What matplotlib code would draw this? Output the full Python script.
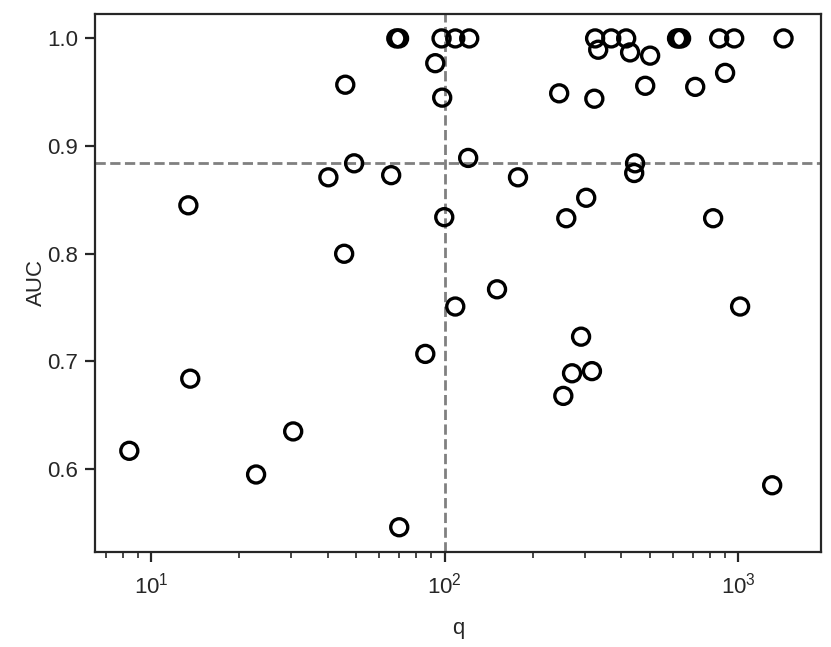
import matplotlib
matplotlib.use("Agg")
import matplotlib.pyplot as plt
import numpy as np

plt.rcParams['font.family'] = ['Liberation Sans', 'DejaVu Sans']
plt.rcParams['mathtext.fontset'] = 'custom'
plt.rcParams['mathtext.rm'] = 'Liberation Sans'
plt.rcParams['mathtext.it'] = 'Liberation Sans:italic'
plt.rcParams['mathtext.bf'] = 'Liberation Sans:bold'

q = [68.5, 70.0, 97.7, 108.8, 121.4, 326, 370, 416, 620, 630, 640, 863, 971, 1430,
     93.0, 98.2, 245.9, 334, 429, 502, 324, 483, 904, 715,
     40.2, 49.2, 65.8, 120.4, 99.8, 45.5,
     178, 446, 443, 304, 260, 823,
     151, 108.8, 86, 292, 272, 318, 254,
     8.43, 13.4, 13.6, 22.8, 30.5, 45.9, 70.1, 1017, 1308]
auc = [1.0, 1.0, 1.0, 1.0, 1.0, 1.0, 1.0, 1.0, 1.0, 1.0, 1.0, 1.0, 1.0, 1.0,
       0.977, 0.945, 0.949, 0.9895, 0.987, 0.984, 0.944, 0.956, 0.968, 0.955,
       0.871, 0.884, 0.873, 0.889, 0.834, 0.800,
       0.871, 0.884, 0.875, 0.852, 0.833, 0.833,
       0.767, 0.751, 0.707, 0.723, 0.689, 0.691, 0.668,
       0.617, 0.845, 0.684, 0.595, 0.635, 0.957, 0.546, 0.751, 0.585]
q_threshold = 100
auc_threshold = 0.884

fig = plt.figure(figsize=(8.31, 6.47), dpi=100)
ax = fig.add_axes([0.1143, 0.1468, 0.8737, 0.8316])
ax.scatter(q, auc, s=150, facecolors='none', edgecolors='black', linewidths=2.4, zorder=3)
ax.set_xscale('log')
ax.axvline(q_threshold, color='#808080', linestyle='--', linewidth=2.0, zorder=2)
ax.axhline(auc_threshold, color='#808080', linestyle='--', linewidth=2.0, zorder=2)

ax.set_xlim(6.44, 1919)
ax.set_ylim(0.523, 1.0227)
ax.set_yticks([0.6, 0.7, 0.8, 0.9, 1.0])
ax.set_yticklabels(['0.6', '0.7', '0.8', '0.9', '1.0'])
ax.set_xlabel('q', fontsize=16, color='#262626', labelpad=14)
ax.set_ylabel('AUC', fontsize=16, color='#262626', labelpad=0)
for s in ax.spines.values():
    s.set_linewidth(1.6)
    s.set_color('#262626')
ax.tick_params(axis='both', which='major', length=7, width=1.6, labelsize=16,
               color='#262626', labelcolor='#262626', pad=5)
ax.tick_params(axis='x', which='major', pad=8)
ax.tick_params(axis='both', which='minor', length=4.5, width=1.2, color='#262626')

fig.savefig('out.png', dpi=100)
